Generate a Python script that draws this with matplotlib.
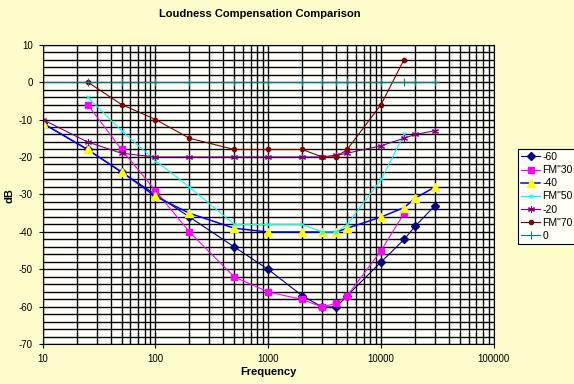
###################################
# Loudness Compensation Comparison
###################################

import numpy as np
import matplotlib
matplotlib.use('Agg')
import matplotlib.pyplot as plt
from matplotlib import ticker

'''
Data read off the chart (frequency in Hz, level in dB)
'''
freq_full = [10, 25, 50, 100, 200, 500, 1000, 2000, 3000, 4000, 5000, 10000, 16000, 20000, 30000]
freq_fm = [25, 50, 100, 200, 500, 1000, 2000, 3000, 4000, 5000, 10000, 16000]

level_m60 = [-11, -18, -24, -30, -36, -44, -50, -57, -60, -60, -57, -48, -42, -38.5, -33]
level_fm30 = [-6, -18, -29, -40, -52, -56, -58, -60, -59, -57, -45, -35]
level_m40 = [-11, -18, -24, -30.5, -35, -39, -40, -40, -40, -40, -39, -36, -33.5, -31, -28]
level_fm50 = [-4, -13, -21, -28, -38, -38, -38, -40, -40, -38, -26, -14]
level_m20 = [-10, -16, -19, -20, -20, -20, -20, -20, -20, -19.5, -19, -17, -15, -14, -13]
level_fm70 = [0, -6, -10, -15, -18, -18, -18, -20, -20, -18, -6, 6]
level_0 = [0, 0, 0, 0, 0, 0, 0, 0, 0, 0, 0, 0, 0, 0, 0]

series_labels = ['-60', 'FM"30', '-40', 'FM"50', '-20', 'FM"70', '0']


def main():
    plt.rcParams['font.family'] = ['Liberation Sans', 'DejaVu Sans']
    plt.rcParams['axes.unicode_minus'] = False

    fig = plt.figure(figsize=(5.74, 3.84), dpi=100, facecolor='#FFFCCC')
    ax = fig.add_axes([0.0744, 0.1029, 0.786, 0.7812])
    ax.set_facecolor('#FFFFF8')

    # series, in legend order
    ax.plot(freq_full, level_m60, color='#000080', lw=0.8, marker='D',
            ms=4, mfc='#000080', mec='#000080', label=series_labels[0])
    ax.plot(freq_fm, level_fm30, color='#FF00FF', lw=0.8, marker='s',
            ms=4, mfc='#FF00FF', mec='#FF00FF', label=series_labels[1])
    ax.plot(freq_full, level_m40, color='#0000FF', lw=1.1, marker='^',
            ms=6, mfc='#FFFF00', mec='#FFFF00', label=series_labels[2])
    ax.plot(freq_fm, level_fm50, color='#00FFFF', lw=0.8, marker='x',
            ms=3, mec='#00FFFF', mew=0.8, label=series_labels[3])
    ax.plot(freq_full, level_m20, color='#800080', lw=0.8, marker=(6, 2, 0),
            ms=5, mec='#800080', mew=0.8, label=series_labels[4])
    ax.plot(freq_fm, level_fm70, color='#800000', lw=0.8, marker='o',
            ms=3, mfc='#800000', mec='#800000', label=series_labels[5])
    ax.plot(freq_full, level_0, color='#008080', lw=0.8, marker='+',
            ms=6, mec='#008080', mew=0.8, label=series_labels[6])

    # axes
    ax.set_xscale('log')
    ax.set_xlim(10, 100000)
    ax.set_ylim(-70, 10)
    ax.xaxis.set_major_locator(ticker.LogLocator(base=10, numticks=10))
    ax.xaxis.set_minor_locator(ticker.LogLocator(base=10, subs=np.arange(2, 10), numticks=10))
    ax.xaxis.set_major_formatter(ticker.FuncFormatter(lambda v, p: '%d' % v))
    ax.xaxis.set_minor_formatter(ticker.NullFormatter())
    ax.yaxis.set_major_locator(ticker.MultipleLocator(10))
    ax.yaxis.set_minor_locator(ticker.MultipleLocator(2))

    ax.grid(True, which='both', color='black', lw=1.0)
    ax.set_axisbelow(True)
    ax.tick_params(which='major', direction='out', length=3, width=0.8,
                   labelsize=7, color='black')
    ax.tick_params(which='minor', length=0)
    ax.tick_params(axis='x', pad=4)
    ax.tick_params(axis='y', pad=4)
    for side in ax.spines.values():
        side.set_color('black')
        side.set_linewidth(0.8)

    ax.set_xlabel('Frequency', fontsize=8, fontweight='bold')
    ax.set_ylabel('dB', fontsize=8, fontweight='bold')
    ax.xaxis.set_label_coords(0.5, -0.075)
    ax.yaxis.set_label_coords(-0.062, 0.498)
    fig.text(259.5 / 574, 1 - 14 / 384, 'Loudness Compensation Comparison',
             ha='center', va='center', fontsize=8, fontweight='bold')

    leg = ax.legend(loc='upper left', bbox_to_anchor=(518.3 / 574, 1 - 149 / 384),
                    bbox_transform=fig.transFigure, fontsize=7.5, frameon=True,
                    fancybox=False, edgecolor='black', facecolor='#FFFFF8',
                    framealpha=1, borderpad=0.3, labelspacing=0.3,
                    handlelength=1.8, handletextpad=0.2, borderaxespad=0)
    leg.get_frame().set_linewidth(0.8)

    plt.savefig('out.png', dpi=100, facecolor=fig.get_facecolor())


if __name__ == '__main__':
    main()
